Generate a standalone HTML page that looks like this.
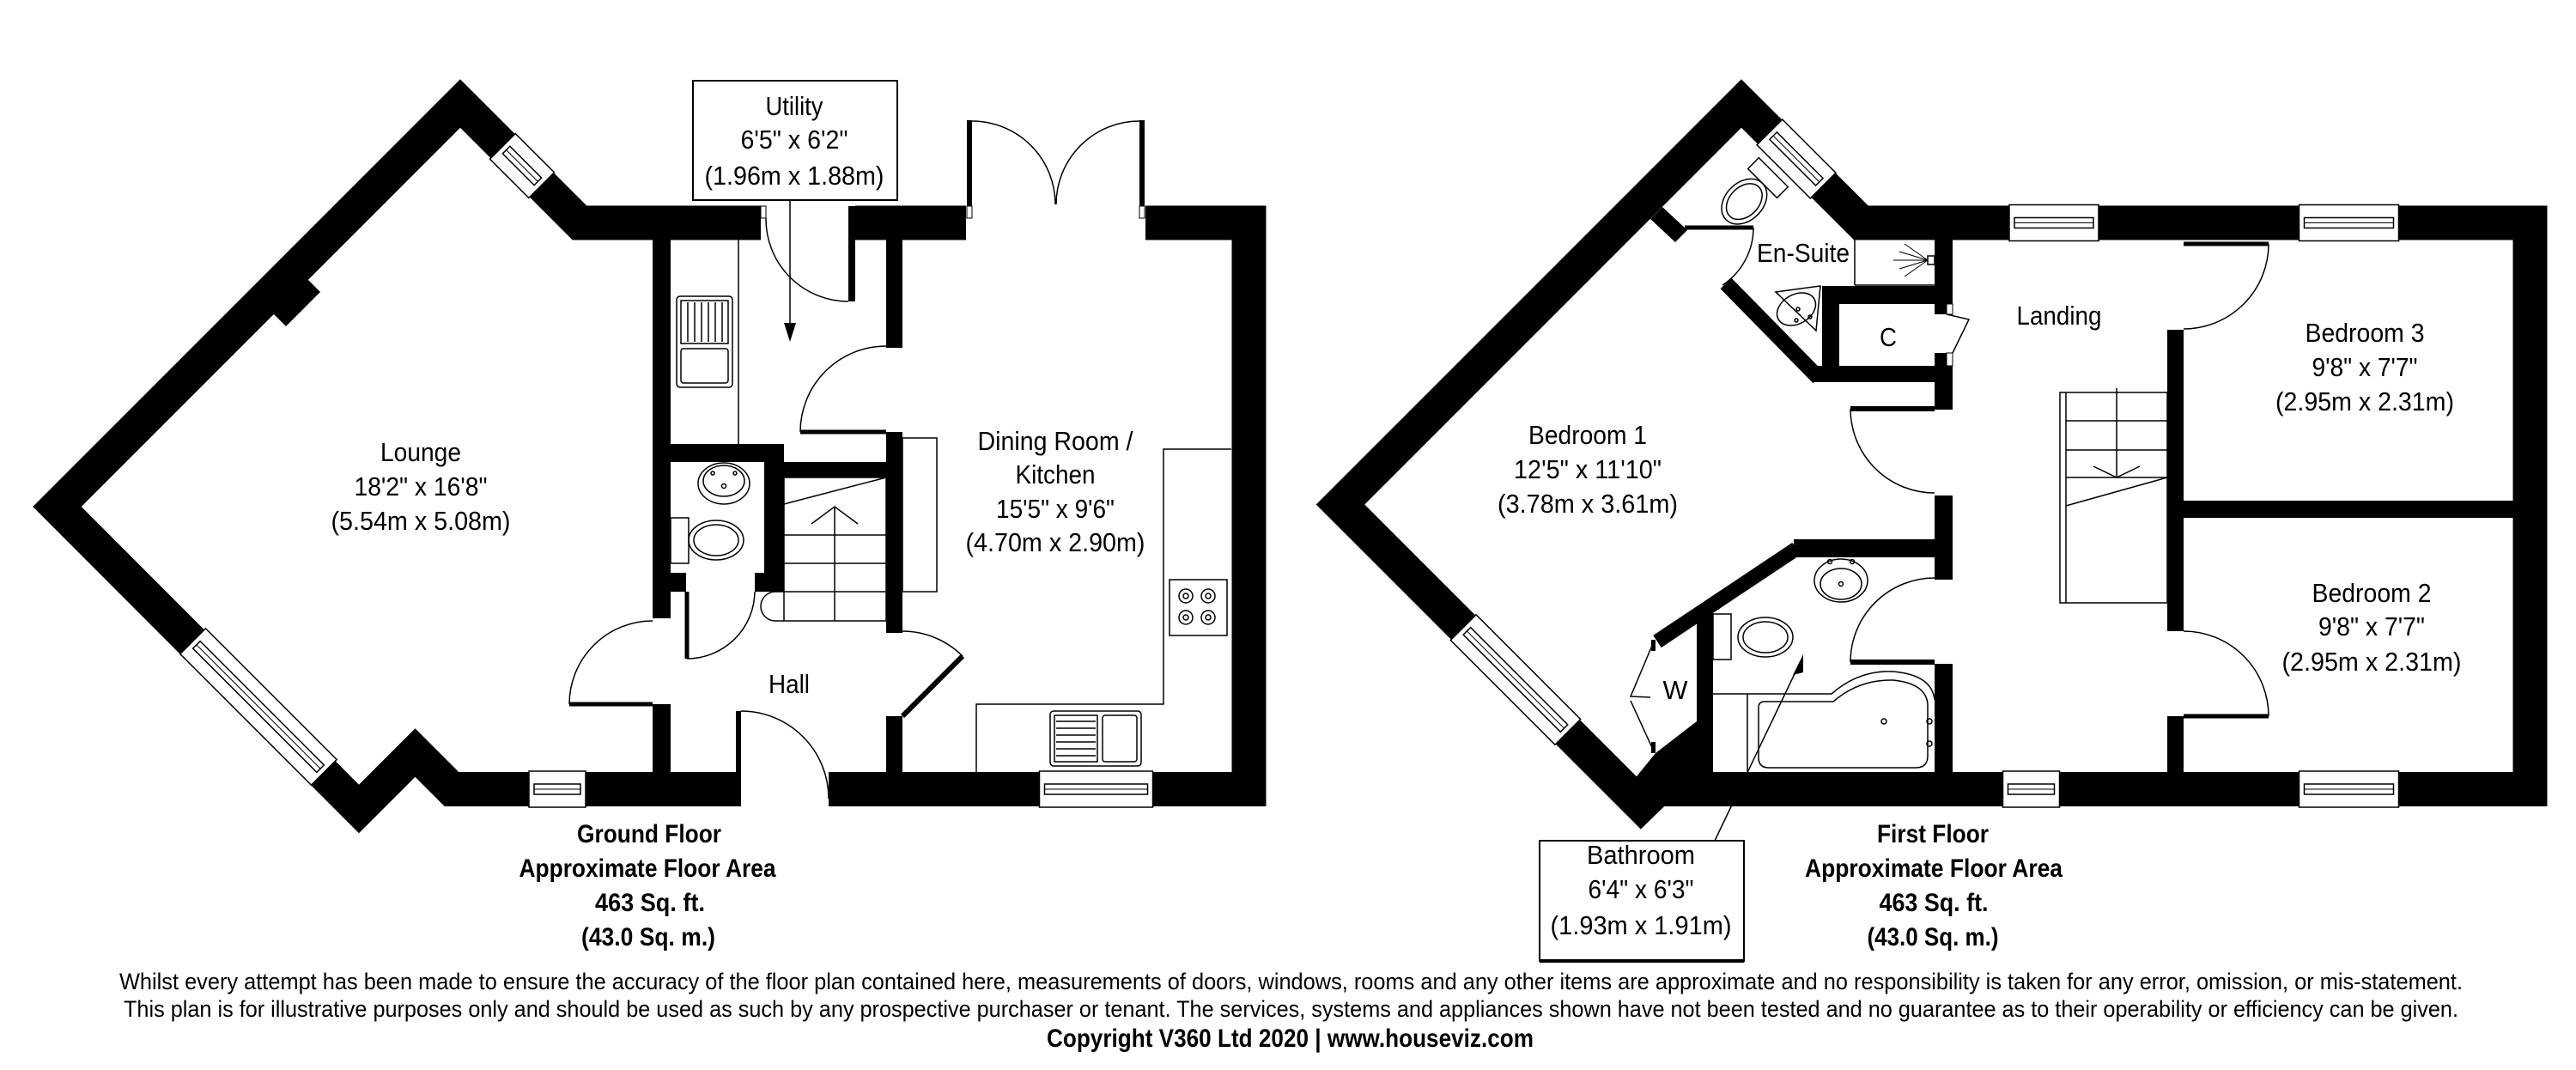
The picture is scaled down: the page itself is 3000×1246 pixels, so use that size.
<!DOCTYPE html>
<html><head><meta charset="utf-8"><style>
html,body{margin:0;padding:0;background:#fff;}
svg{display:block;}
text{font-family:"Liberation Sans Narrow","Liberation Sans",sans-serif;fill:#000;}
.r{font-size:31px;}
.b{font-size:30px;font-weight:bold;}
.d{font-size:27px;}
.t{fill:none;stroke:#000;stroke-width:2;}
.th{fill:none;stroke:#000;stroke-width:1.5;}
.w{fill:#fff;stroke:none;}
.k{fill:#000;}
</style></head><body>
<svg width="3000" height="1246" viewBox="0 0 3000 1246" xmlns="http://www.w3.org/2000/svg">
<defs>
<g id="win"><rect x="-0.5" y="-21" width="1" height="42" fill="#fff"/></g>
</defs>
<rect width="3000" height="1246" fill="#fff"/>

<!-- ============ GROUND FLOOR ============ -->
<path d="M675,259.5 L536,120.5 L66.5,590 L418,942 L483.5,876.5 L526,919 L1454.5,919 L1454.5,259.5 Z" fill="none" stroke="#000" stroke-width="40" stroke-linejoin="miter" stroke-miterlimit="10"/>
<polygon points="315,362 333,380 373,340 355,322" class="k"/>
<!-- interior walls -->
<rect x="760" y="270" width="21" height="450" class="k"/>
<rect x="760" y="820" width="21" height="110" class="k"/>
<rect x="1032" y="270" width="19" height="135" class="k"/>
<rect x="1032" y="503" width="19" height="234" class="k"/>
<rect x="1032" y="834" width="19" height="90" class="k"/>
<rect x="781" y="517" width="132" height="21" class="k"/>
<rect x="890" y="538" width="23" height="151" class="k"/>
<rect x="879" y="667" width="34" height="22" class="k"/>
<rect x="781" y="667" width="18" height="22" class="k"/>
<rect x="913" y="538" width="119" height="18" class="k"/>

<!-- ground windows -->
<g transform="translate(608,193) rotate(45)"><rect x="-32" y="-21" width="64" height="42" fill="#fff" stroke="#000" stroke-width="1.5"/><rect x="-26" y="-6" width="52" height="12" class="th" fill="#fff"/><line x1="-26" y1="0" x2="26" y2="0" stroke="#000" stroke-width="1"/></g>
<g transform="translate(301,823) rotate(45)"><rect x="-108" y="-21" width="216" height="42" fill="#fff" stroke="#000" stroke-width="1.5"/><rect x="-102" y="-6" width="204" height="12" class="th" fill="#fff"/><line x1="-102" y1="0" x2="102" y2="0" stroke="#000" stroke-width="1"/></g>
<g transform="translate(649,919)"><rect x="-33" y="-21" width="66" height="42" fill="#fff" stroke="#000" stroke-width="1.5"/><rect x="-27" y="-6" width="54" height="12" class="th" fill="#fff"/><line x1="-27" y1="0" x2="27" y2="0" stroke="#000" stroke-width="1"/></g>
<g transform="translate(1276.5,919)"><rect x="-66" y="-21" width="132" height="42" fill="#fff" stroke="#000" stroke-width="1.5"/><rect x="-60" y="-6" width="120" height="12" class="th" fill="#fff"/><line x1="-60" y1="0" x2="60" y2="0" stroke="#000" stroke-width="1"/></g>

<!-- ground door gaps -->
<rect x="886" y="236" width="110" height="47" class="w"/>
<rect x="886" y="240" width="6" height="14" fill="#fff" stroke="#000" stroke-width="1"/>
<rect x="988" y="240" width="8" height="111" class="k"/>
<path d="M892,254 A96,96 0 0 0 988,351" class="th"/>
<rect x="1125" y="236" width="209" height="47" class="w"/>
<rect x="1126" y="140" width="6" height="100" class="k"/>
<rect x="1327" y="140" width="6" height="100" class="k"/>
<rect x="1126" y="240" width="6" height="14" fill="#fff" stroke="#000" stroke-width="1"/>
<rect x="1327" y="240" width="6" height="14" fill="#fff" stroke="#000" stroke-width="1"/>
<path d="M1132,141 A97,97 0 0 1 1229,238" class="th"/>
<path d="M1327,141 A97,97 0 0 0 1230,238" class="th"/>
<rect x="863" y="895" width="102" height="48" class="w"/>
<rect x="857" y="828" width="6" height="111" class="k"/>
<path d="M863,828 A102,102 0 0 1 965,930" class="th"/>
<rect x="756" y="720" width="29" height="100" class="w"/>
<line x1="663" y1="820" x2="760" y2="820" stroke="#000" stroke-width="5"/>
<path d="M663,820 A97,97 0 0 1 760,723" class="th"/>
<line x1="932" y1="503" x2="1032" y2="503" stroke="#000" stroke-width="5"/>
<path d="M932,503 A100,100 0 0 1 1032,403" class="th"/>
<line x1="800" y1="689" x2="800" y2="767" stroke="#000" stroke-width="5"/>
<path d="M800,767 A79,79 0 0 0 879,689" class="th"/>
<line x1="1051" y1="834" x2="1121" y2="764" stroke="#000" stroke-width="6"/>
<path d="M1121,764 A99,99 0 0 0 1051,735" class="th"/>

<!-- utility fittings -->
<line x1="860" y1="279" x2="860" y2="517" class="th"/>
<rect x="788" y="345" width="65" height="106" rx="4" class="th"/>
<rect x="793" y="350" width="55" height="50" class="th"/>
<line x1="801" y1="352" x2="801" y2="398" class="th"/><line x1="809" y1="352" x2="809" y2="398" class="th"/><line x1="817" y1="352" x2="817" y2="398" class="th"/><line x1="825" y1="352" x2="825" y2="398" class="th"/><line x1="833" y1="352" x2="833" y2="398" class="th"/><line x1="841" y1="352" x2="841" y2="398" class="th"/>
<rect x="793" y="406" width="55" height="40" rx="3" class="th"/>
<!-- WC -->
<ellipse cx="843" cy="563" rx="30" ry="24" class="th"/>
<ellipse cx="843" cy="560" rx="24" ry="18" class="th"/>
<circle cx="843" cy="566" r="2.5" class="th"/><circle cx="830" cy="551" r="2" class="th"/><circle cx="856" cy="551" r="2" class="th"/>
<rect x="781" y="603" width="21" height="53" class="th"/>
<ellipse cx="834" cy="629" rx="32" ry="23" class="th"/>
<ellipse cx="834" cy="629" rx="26" ry="18" class="th"/>
<!-- stairs -->
<rect x="913" y="556" width="119" height="167" class="th"/>
<line x1="913" y1="587" x2="1032" y2="556" class="th"/>
<line x1="913" y1="623" x2="1032" y2="623" class="th"/>
<line x1="913" y1="656" x2="1032" y2="656" class="th"/>
<line x1="913" y1="689" x2="1032" y2="689" class="th"/>
<line x1="972" y1="723" x2="972" y2="590" class="th"/>
<polyline points="945,610 972,590 999,610" class="th"/>
<path d="M913,689 L903,689 A17,17 0 0 0 903,723 L913,723" class="th" fill="#fff"/>
<rect x="1051" y="510" width="40" height="179" class="th"/>
<!-- kitchen counters -->
<polyline points="1434,523 1355,523 1355,820 1137,820 1137,900" class="th"/>
<rect x="1362" y="675" width="67" height="65" class="th"/>
<circle cx="1381" cy="694" r="8" class="th"/><circle cx="1381" cy="694" r="3" class="th"/>
<circle cx="1407" cy="694" r="8" class="th"/><circle cx="1407" cy="694" r="3" class="th"/>
<circle cx="1381" cy="719" r="8" class="th"/><circle cx="1381" cy="719" r="3" class="th"/>
<circle cx="1407" cy="719" r="8" class="th"/><circle cx="1407" cy="719" r="3" class="th"/>
<rect x="1223" y="828" width="106" height="64" rx="4" class="th"/>
<rect x="1228" y="833" width="50" height="54" class="th"/>
<line x1="1230" y1="840" x2="1276" y2="840" class="th"/><line x1="1230" y1="848" x2="1276" y2="848" class="th"/><line x1="1230" y1="856" x2="1276" y2="856" class="th"/><line x1="1230" y1="864" x2="1276" y2="864" class="th"/><line x1="1230" y1="872" x2="1276" y2="872" class="th"/><line x1="1230" y1="880" x2="1276" y2="880" class="th"/>
<rect x="1284" y="833" width="40" height="54" rx="3" class="th"/>

<!-- utility label box -->
<rect x="807" y="94" width="238" height="139" fill="#fff" stroke="#000" stroke-width="2"/>
<line x1="920" y1="233" x2="920" y2="380" stroke="#000" stroke-width="1.5"/>
<polygon points="913,376 927,376 920,398" class="k"/>
<text class="r" x="925" y="134" text-anchor="middle" textLength="67" lengthAdjust="spacingAndGlyphs">Utility</text>
<text class="r" x="925" y="173" text-anchor="middle" textLength="125" lengthAdjust="spacingAndGlyphs">6'5" x 6'2"</text>
<text class="r" x="925" y="215" text-anchor="middle" textLength="209" lengthAdjust="spacingAndGlyphs">(1.96m x 1.88m)</text>

<!-- ground labels -->
<text class="r" x="490" y="537" text-anchor="middle" textLength="94" lengthAdjust="spacingAndGlyphs">Lounge</text>
<text class="r" x="490" y="577" text-anchor="middle" textLength="155" lengthAdjust="spacingAndGlyphs">18'2" x 16'8"</text>
<text class="r" x="490" y="617" text-anchor="middle" textLength="209" lengthAdjust="spacingAndGlyphs">(5.54m x 5.08m)</text>
<text class="r" x="1229" y="524" text-anchor="middle" textLength="181" lengthAdjust="spacingAndGlyphs">Dining Room /</text>
<text class="r" x="1229" y="563" text-anchor="middle" textLength="93" lengthAdjust="spacingAndGlyphs">Kitchen</text>
<text class="r" x="1229" y="603" text-anchor="middle" textLength="138" lengthAdjust="spacingAndGlyphs">15'5" x 9'6"</text>
<text class="r" x="1229" y="642" text-anchor="middle" textLength="209" lengthAdjust="spacingAndGlyphs">(4.70m x 2.90m)</text>
<text class="r" x="919" y="807" text-anchor="middle" textLength="48" lengthAdjust="spacingAndGlyphs">Hall</text>

<text class="b" x="756" y="981" text-anchor="middle" textLength="168" lengthAdjust="spacingAndGlyphs">Ground Floor</text>
<text class="b" x="754" y="1021" text-anchor="middle" textLength="299" lengthAdjust="spacingAndGlyphs">Approximate Floor Area</text>
<text class="b" x="757" y="1061" text-anchor="middle" textLength="128" lengthAdjust="spacingAndGlyphs">463 Sq. ft.</text>
<text class="b" x="755" y="1101" text-anchor="middle" textLength="156" lengthAdjust="spacingAndGlyphs">(43.0 Sq. m.)</text>

<!-- ============ FIRST FLOOR ============ -->
<path d="M1911,937.5 L1930,919 L2946.5,919 L2946.5,259.5 L2167.5,259.5 L2028,120.5 L1561,587.5 Z" fill="none" stroke="#000" stroke-width="40" stroke-linejoin="miter" stroke-miterlimit="10"/>
<polygon points="1898,914 1928,877 1976,840 1995,840 1995,939 1930,939" class="k"/>
<!-- interior -->
<line x1="2010" y1="330" x2="2118" y2="440" stroke="#000" stroke-width="18"/>
<polygon points="1936,241 1965,268 1951,282 1922,255" class="k"/>
<line x1="1962" y1="265" x2="2042" y2="265" stroke="#000" stroke-width="5"/>
<path d="M2042,265 A80,80 0 0 1 2006,332" class="th"/>
<rect x="2122" y="333" width="20" height="93" class="k"/>
<rect x="2122" y="333" width="145" height="21" class="k"/>
<rect x="2112" y="426" width="162" height="19" class="k"/>
<line x1="2160" y1="279" x2="2160" y2="332" class="th"/>
<line x1="2160" y1="332" x2="2253" y2="332" class="th"/>
<line x1="2205" y1="303" x2="2245" y2="303" stroke="#000" stroke-width="1"/>
<line x1="2218" y1="284" x2="2245" y2="303" stroke="#000" stroke-width="1"/>
<line x1="2218" y1="322" x2="2245" y2="303" stroke="#000" stroke-width="1"/>
<line x1="2212" y1="293" x2="2245" y2="303" stroke="#000" stroke-width="1"/>
<line x1="2212" y1="313" x2="2245" y2="303" stroke="#000" stroke-width="1"/>
<rect x="2245" y="298" width="8" height="10" class="th"/>
<rect x="2253" y="270" width="21" height="96" class="k"/>
<rect x="2253" y="411" width="21" height="66" class="k"/>
<rect x="2253" y="577" width="21" height="98" class="k"/>
<rect x="2253" y="773" width="21" height="140" class="k"/>
<polyline points="2267,366 2293,372 2274,411" class="th"/>
<rect x="2267" y="354" width="7" height="12" fill="#fff" stroke="#000" stroke-width="1"/>
<rect x="2267" y="411" width="7" height="15" fill="#fff" stroke="#000" stroke-width="1"/>
<line x1="2155" y1="476" x2="2253" y2="476" stroke="#000" stroke-width="6"/>
<path d="M2155,476 A98,98 0 0 0 2253,574" class="th"/>
<rect x="2089" y="628" width="185" height="21" class="k"/>
<line x1="2092" y1="639" x2="1930" y2="747" stroke="#000" stroke-width="17"/>
<rect x="1976" y="714" width="19" height="186" class="k"/>
<polyline points="1926,747 1899,811 1922,812" class="th" stroke-width="2.5"/>
<polyline points="1899,816 1926,875" class="th" stroke-width="2.5"/>
<rect x="1923" y="745" width="5" height="13" class="k"/><rect x="1923" y="864" width="5" height="13" class="k"/>
<line x1="2155" y1="771" x2="2253" y2="771" stroke="#000" stroke-width="6"/>
<path d="M2155,771 A98,98 0 0 1 2253,673" class="th"/>
<rect x="2524" y="384" width="19" height="351" class="k"/>
<rect x="2524" y="834" width="19" height="80" class="k"/>
<rect x="2524" y="270" width="19" height="9" class="k"/>
<line x1="2543" y1="284" x2="2642" y2="284" stroke="#000" stroke-width="5"/>
<path d="M2642,284 A99,99 0 0 1 2543,383" class="th"/>
<line x1="2543" y1="834" x2="2642" y2="834" stroke="#000" stroke-width="5"/>
<path d="M2642,834 A99,99 0 0 0 2543,735" class="th"/>
<rect x="2543" y="583" width="390" height="20" class="k"/>

<!-- first windows -->
<g transform="translate(2392,259.5)"><rect x="-52" y="-21" width="104" height="42" fill="#fff" stroke="#000" stroke-width="1.5"/><rect x="-46" y="-6" width="92" height="12" class="th" fill="#fff"/><line x1="-46" y1="0" x2="46" y2="0" stroke="#000" stroke-width="1"/></g>
<g transform="translate(2735.5,259.5)"><rect x="-58" y="-21" width="116" height="42" fill="#fff" stroke="#000" stroke-width="1.5"/><rect x="-52" y="-6" width="104" height="12" class="th" fill="#fff"/><line x1="-52" y1="0" x2="52" y2="0" stroke="#000" stroke-width="1"/></g>
<g transform="translate(2365.5,919)"><rect x="-33" y="-21" width="66" height="42" fill="#fff" stroke="#000" stroke-width="1.5"/><rect x="-27" y="-6" width="54" height="12" class="th" fill="#fff"/><line x1="-27" y1="0" x2="27" y2="0" stroke="#000" stroke-width="1"/></g>
<g transform="translate(2735.5,919)"><rect x="-58" y="-21" width="116" height="42" fill="#fff" stroke="#000" stroke-width="1.5"/><rect x="-52" y="-6" width="104" height="12" class="th" fill="#fff"/><line x1="-52" y1="0" x2="52" y2="0" stroke="#000" stroke-width="1"/></g>
<g transform="translate(1765,791.5) rotate(45)"><rect x="-86" y="-21" width="172" height="42" fill="#fff" stroke="#000" stroke-width="1.5"/><rect x="-80" y="-6" width="160" height="12" class="th" fill="#fff"/><line x1="-80" y1="0" x2="80" y2="0" stroke="#000" stroke-width="1"/></g>
<g transform="translate(2092,185) rotate(45)"><rect x="-44" y="-21" width="88" height="42" fill="#fff" stroke="#000" stroke-width="1.5"/><rect x="-38" y="-6" width="76" height="12" class="th" fill="#fff"/><line x1="-38" y1="0" x2="38" y2="0" stroke="#000" stroke-width="1"/></g>

<!-- ensuite fittings -->
<g transform="translate(2037,229) rotate(45)"><ellipse cx="0" cy="8" rx="22" ry="30" class="th"/><ellipse cx="0" cy="8" rx="17" ry="24" class="th"/><rect x="-24" y="-40" width="48" height="18" class="th" fill="#fff"/></g>
<path d="M2068,340 L2120,333 L2115,385 Z" class="th"/>
<ellipse cx="2092" cy="360" rx="24" ry="17" transform="rotate(-30 2092 360)" class="th"/>
<circle cx="2094" cy="360" r="2" class="th"/><circle cx="2108" cy="369" r="2" class="th"/><circle cx="2092" cy="373" r="2" class="th"/>
<!-- bathroom fittings -->
<ellipse cx="2144" cy="676" rx="31" ry="25" class="th"/>
<ellipse cx="2144" cy="680" rx="24" ry="18" class="th"/>
<circle cx="2131" cy="654" r="2.5" class="th"/><circle cx="2157" cy="654" r="2.5" class="th"/><circle cx="2144" cy="680" r="2.5" class="th"/>
<rect x="1995" y="715" width="21" height="53" class="th"/>
<ellipse cx="2056" cy="742" rx="32" ry="23" class="th"/>
<ellipse cx="2056" cy="742" rx="26" ry="18" class="th"/>
<path d="M1995,808 L2133,808 Q2165,780 2205,782 Q2250,786 2253,815" class="th"/>
<line x1="2035" y1="808" x2="2035" y2="899" class="th"/>
<path d="M2055,817 L2135,817 Q2165,791 2205,792 Q2243,796 2245,820 L2245,880 Q2245,894 2231,894 L2060,894 Q2048,894 2048,882 L2048,824 Q2048,817 2055,817 Z" class="th"/>
<circle cx="2194" cy="840" r="3" class="th"/><circle cx="2247" cy="840" r="3" class="th"/><circle cx="2247" cy="866" r="3" class="th"/>
<!-- first stairs -->
<rect x="2399" y="457" width="125" height="245" class="th"/>
<line x1="2406" y1="457" x2="2406" y2="702" class="th"/>
<line x1="2406" y1="490" x2="2524" y2="490" class="th"/>
<line x1="2406" y1="524" x2="2524" y2="524" class="th"/>
<line x1="2406" y1="556" x2="2524" y2="556" class="th"/>
<line x1="2406" y1="589" x2="2524" y2="556" class="th"/>
<line x1="2465" y1="452" x2="2465" y2="556" class="th"/>
<polyline points="2438,543 2465,556 2492,543" class="th"/>

<!-- bathroom label box -->
<line x1="1997" y1="979" x2="2097" y2="770" stroke="#000" stroke-width="1.5"/>
<polygon points="2100,762 2088,786 2100,783" class="k"/>
<rect x="1793" y="979" width="238" height="140" fill="#fff" stroke="#000" stroke-width="2"/>
<line x1="1793" y1="1119" x2="2031" y2="1119" stroke="#000" stroke-width="4"/>
<text class="r" x="1911" y="1006" text-anchor="middle" textLength="126" lengthAdjust="spacingAndGlyphs">Bathroom</text>
<text class="r" x="1911" y="1046" text-anchor="middle" textLength="123" lengthAdjust="spacingAndGlyphs">6'4" x 6'3"</text>
<text class="r" x="1911" y="1088" text-anchor="middle" textLength="211" lengthAdjust="spacingAndGlyphs">(1.93m x 1.91m)</text>

<!-- first labels -->
<text class="r" x="1849" y="517" text-anchor="middle" textLength="138" lengthAdjust="spacingAndGlyphs">Bedroom 1</text>
<text class="r" x="1849" y="557" text-anchor="middle" textLength="172" lengthAdjust="spacingAndGlyphs">12'5" x 11'10"</text>
<text class="r" x="1849" y="597" text-anchor="middle" textLength="210" lengthAdjust="spacingAndGlyphs">(3.78m x 3.61m)</text>
<text class="r" x="2100" y="305" text-anchor="middle" textLength="108" lengthAdjust="spacingAndGlyphs">En-Suite</text>
<text class="r" x="2199" y="403" text-anchor="middle" textLength="20" lengthAdjust="spacingAndGlyphs">C</text>
<text class="r" x="1951" y="814" text-anchor="middle" textLength="29" lengthAdjust="spacingAndGlyphs">W</text>
<text class="r" x="2398" y="378" text-anchor="middle" textLength="99" lengthAdjust="spacingAndGlyphs">Landing</text>
<text class="r" x="2754" y="398" text-anchor="middle" textLength="139" lengthAdjust="spacingAndGlyphs">Bedroom 3</text>
<text class="r" x="2754" y="438" text-anchor="middle" textLength="123" lengthAdjust="spacingAndGlyphs">9'8" x 7'7"</text>
<text class="r" x="2754" y="478" text-anchor="middle" textLength="208" lengthAdjust="spacingAndGlyphs">(2.95m x 2.31m)</text>
<text class="r" x="2762" y="701" text-anchor="middle" textLength="139" lengthAdjust="spacingAndGlyphs">Bedroom 2</text>
<text class="r" x="2762" y="740" text-anchor="middle" textLength="124" lengthAdjust="spacingAndGlyphs">9'8" x 7'7"</text>
<text class="r" x="2762" y="781" text-anchor="middle" textLength="209" lengthAdjust="spacingAndGlyphs">(2.95m x 2.31m)</text>

<text class="b" x="2251" y="981" text-anchor="middle" textLength="130" lengthAdjust="spacingAndGlyphs">First Floor</text>
<text class="b" x="2252" y="1021" text-anchor="middle" textLength="300" lengthAdjust="spacingAndGlyphs">Approximate Floor Area</text>
<text class="b" x="2252" y="1061" text-anchor="middle" textLength="127" lengthAdjust="spacingAndGlyphs">463 Sq. ft.</text>
<text class="b" x="2251" y="1101" text-anchor="middle" textLength="153" lengthAdjust="spacingAndGlyphs">(43.0 Sq. m.)</text>

<!-- disclaimer -->
<text class="d" x="139" y="1152" textLength="2729" lengthAdjust="spacingAndGlyphs">Whilst every attempt has been made to ensure the accuracy of the floor plan contained here, measurements of doors, windows, rooms and any other items are approximate and no responsibility is taken for any error, omission, or mis-statement.</text>
<text class="d" x="144" y="1184" textLength="2719" lengthAdjust="spacingAndGlyphs">This plan is for illustrative purposes only and should be used as such by any prospective purchaser or tenant. The services, systems and appliances shown have not been tested and no guarantee as to their operability or efficiency can be given.</text>
<text class="b" x="1219" y="1219" textLength="567" lengthAdjust="spacingAndGlyphs">Copyright V360 Ltd 2020 | www.houseviz.com</text>
</svg>
</body></html>
